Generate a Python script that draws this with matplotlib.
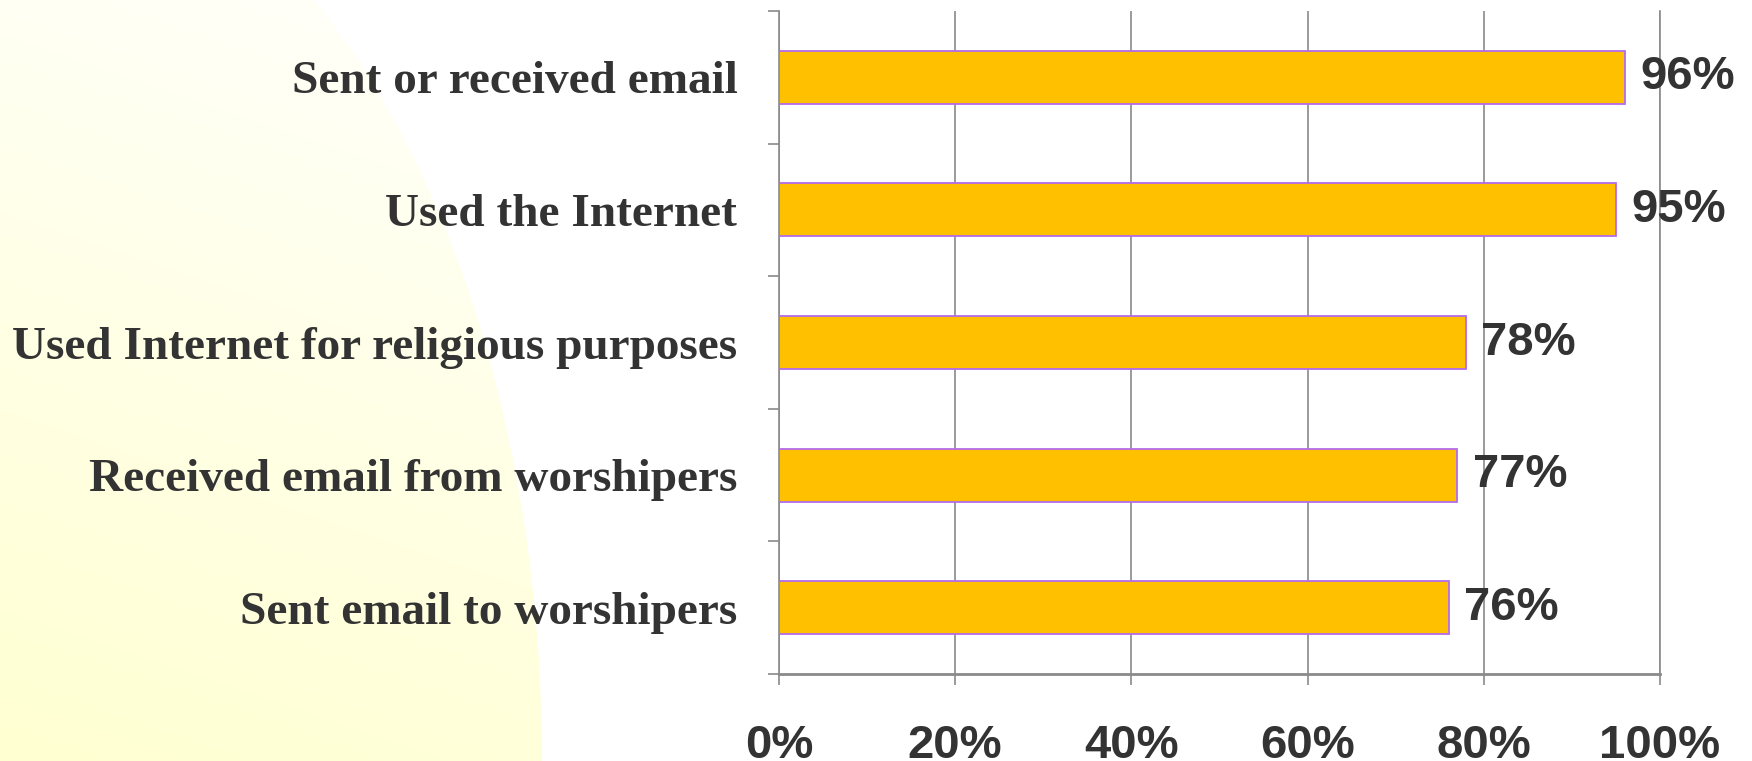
import numpy as np
import matplotlib
matplotlib.use("Agg")
import matplotlib.pyplot as plt
from matplotlib.patches import PathPatch
from matplotlib.path import Path

# Chart data
categories = [
    "Sent or received email",
    "Used the Internet",
    "Used Internet for religious purposes",
    "Received email from worshipers",
    "Sent email to worshipers",
]
values = [96, 95, 78, 77, 76]
xticks = [0, 20, 40, 60, 80, 100]

text_color = "#333333"
grid_color = "#8a8a8a"

fig = plt.figure(figsize=(17.52, 7.61), dpi=100)
fig.patch.set_facecolor("white")

# Yellow gradient decoration on the left
bg = fig.add_axes([0, 0, 1, 1], zorder=-1)
bg.set_xlim(0, 1752)
bg.set_ylim(761, 0)
bg.axis("off")
yy, xx = np.mgrid[0:761, 0:600]
t = np.clip(0.25 + 0.75 * yy / 761 - 0.2 * xx / 600, 0, 1)
img = np.ones((761, 600, 3))
img[..., 2] = 1 - 0.18 * t
im = bg.imshow(img, extent=(0, 600, 761, 0), aspect="auto")
ys = np.linspace(0, 761, 60)
xs = 542 * np.sqrt(1 - ((761 - ys) / 934) ** 2)
verts = [(0, 0)] + list(zip(xs, ys)) + [(0, 761), (0, 0)]
clip = PathPatch(Path(verts), transform=bg.transData, facecolor="none", edgecolor="none")
bg.add_patch(clip)
im.set_clip_path(clip)

ax = fig.add_axes([0.4446, 0.1143, 0.5029, 0.8712])
ax.set_facecolor("none")

ypos = np.arange(len(categories))
ax.barh(ypos, values, height=0.4, color="#FFC000", edgecolor="#B36BEB",
        linewidth=1.3, zorder=3)

for y, v in zip(ypos, values):
    ax.annotate(f"{v}%", (v, y), xytext=(11, 0), textcoords="offset points",
                va="center", ha="left", fontsize=34, fontweight="bold",
                family="Liberation Sans", color=text_color, zorder=4)

ax.set_xlim(0, 100)
ax.set_ylim(len(categories) - 0.5, -0.5)

ax.set_xticks(xticks)
ax.set_xticklabels([f"{x}%" for x in xticks], fontsize=34, fontweight="bold",
                   family="Liberation Sans", color=text_color)
ax.tick_params(axis="x", length=8, width=1.2, color=grid_color, pad=28)

ax.set_yticks(ypos)
ax.set_yticklabels(categories, fontsize=34, fontweight="bold",
                   family="Liberation Serif", color=text_color)
ax.set_yticks(np.arange(-0.5, len(categories)), minor=True)
ax.tick_params(axis="y", which="major", length=0, pad=30)
ax.tick_params(axis="y", which="minor", length=8, width=1.2, color=grid_color)

ax.grid(axis="x", color=grid_color, linewidth=1.2, zorder=0)
ax.set_axisbelow(True)

ax.spines["top"].set_visible(False)
for side in ["left", "right"]:
    ax.spines[side].set_color(grid_color)
    ax.spines[side].set_linewidth(1.2)
ax.spines["bottom"].set_color(grid_color)
ax.spines["bottom"].set_linewidth(2)

fig.savefig("out.png", dpi=100)
